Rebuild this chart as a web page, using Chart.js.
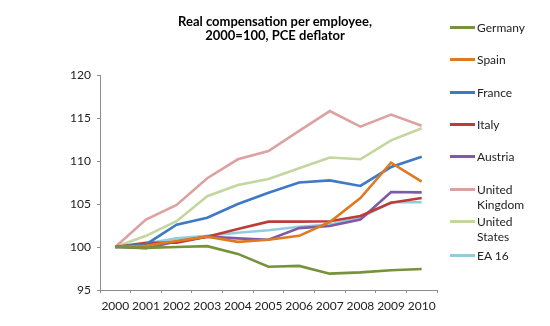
<!DOCTYPE html>
<html>
<head>
<meta charset="utf-8">
<script src="https://cdn.jsdelivr.net/npm/chart.js@4/dist/chart.umd.min.js"></script>
<style>
  body { margin: 0; background: #fff; }
  #wrap { position: relative; width: 550px; height: 326px; font-family: Lato, "Open Sans", sans-serif; }
  #titel { position: absolute; left: 0; top: 14px; width: 550px; text-align: center;
           font-weight: bold; font-size: 13px; line-height: 14px; color: #000; }
  #legende { position: absolute; left: 450px; top: 0; }
  .item { position: absolute; left: 0; width: 100px; }
  .item .garis { position: absolute; left: 0; top: 6px; width: 25px; height: 3px; }
  .item .teks { position: absolute; left: 27px; width: 66px; font-size: 12px; line-height: 15px; color: #222; }
</style>
</head>
<body>
<div id="wrap">
  <canvas id="chart-kompensasi" width="550" height="326"></canvas>
  <div id="titel">Real compensation per employee,<br>2000=100, PCE deflator</div>
  <div id="legende"></div>
</div>
<script>
// data
const tahun = ['2000','2001','2002','2003','2004','2005','2006','2007','2008','2009','2010'];
const yTicks = [95, 100, 105, 110, 115, 120];

const germany = [100, 99.9, 100.0, 100.1, 99.2, 97.7, 97.8, 96.9, 97.05, 97.3, 97.45];
const spain   = [100, 100.15, 100.7, 101.2, 100.6, 100.85, 101.3, 102.9, 105.7, 109.8, 107.6];
const france  = [100, 100.3, 102.6, 103.4, 105.0, 106.3, 107.5, 107.75, 107.1, 109.3, 110.5];
const italy   = [100, 100.5, 100.5, 101.2, 102.1, 102.95, 102.95, 103.0, 103.6, 105.15, 105.7];
const austria = [100, 99.85, 100.65, 101.2, 101.0, 100.85, 102.2, 102.45, 103.2, 106.4, 106.35];
const uk      = [100, 103.2, 104.9, 108.0, 110.2, 111.15, 113.5, 115.8, 114.0, 115.4, 114.1];
const us      = [100, 101.3, 103.0, 105.9, 107.2, 107.9, 109.15, 110.4, 110.2, 112.4, 113.8];
const ea16    = [100, 100.4, 101.0, 101.3, 101.65, 101.95, 102.35, 102.6, 103.4, 105.2, 105.2];

const seri = [
    { label: 'Germany', data: germany, color: '#76933C' },
    { label: 'Spain', data: spain, color: '#DF7A22' },
    { label: 'France', data: france, color: '#3D79C4' },
    { label: 'Italy', data: italy, color: '#BE3B38' },
    { label: 'Austria', data: austria, color: '#7D5BA6' },
    { label: 'United Kingdom', data: uk, color: '#DBA2A0' },
    { label: 'United States', data: us, color: '#C3D69E' },
    { label: 'EA 16', data: ea16, color: '#93CDDD' }
];

// posisi legenda (tengah baris pertama)
const legendY = [27, 59, 92, 124, 156, 189, 221, 255];

const ctx = document.getElementById('chart-kompensasi');
new Chart(ctx.getContext('2d'), {
    type: 'line',
    data: {
        labels: tahun,
        datasets: seri.map(s => ({
            label: s.label,
            data: s.data,
            borderColor: s.color,
            backgroundColor: s.color,
            borderWidth: 2.6,
            pointRadius: 0,
            tension: 0,
            fill: false
        }))
    },
    options: {
        responsive: false,
        animation: false,
        layout: { padding: { left: 0, top: 75, right: 113, bottom: 0 } },
        plugins: { legend: { display: false }, title: { display: false }, tooltip: { enabled: false } },
        scales: {
            x: {
                type: 'category',
                offset: true,
                grid: { offset: true, drawOnChartArea: false, drawTicks: true, tickLength: 3, color: '#8c8c8c' },
                border: { color: '#8c8c8c', width: 1 },
                ticks: { color: '#222', font: { family: 'Lato', size: 12 }, padding: 6, maxRotation: 0, autoSkip: false },
                afterFit: function(s) { s.height = 36; }
            },
            y: {
                min: 95,
                max: 120,
                afterBuildTicks: function(s) { s.ticks = yTicks.map(v => ({ value: v })); },
                grid: { drawOnChartArea: false, drawTicks: true, tickLength: 3, color: '#8c8c8c' },
                border: { color: '#8c8c8c', width: 1 },
                ticks: { color: '#222', font: { family: 'Lato', size: 12 }, padding: 6 },
                afterFit: function(s) { s.width = 100; }
            }
        }
    }
});

// legenda HTML
const leg = document.getElementById('legende');
seri.forEach((s, i) => {
    const el = document.createElement('div');
    el.className = 'item';
    el.style.top = (legendY[i] - 7) + 'px';
    el.innerHTML = '<div class="garis" style="background:' + s.color + '"></div><div class="teks">' + s.label + '</div>';
    leg.appendChild(el);
});
</script>
</body>
</html>
